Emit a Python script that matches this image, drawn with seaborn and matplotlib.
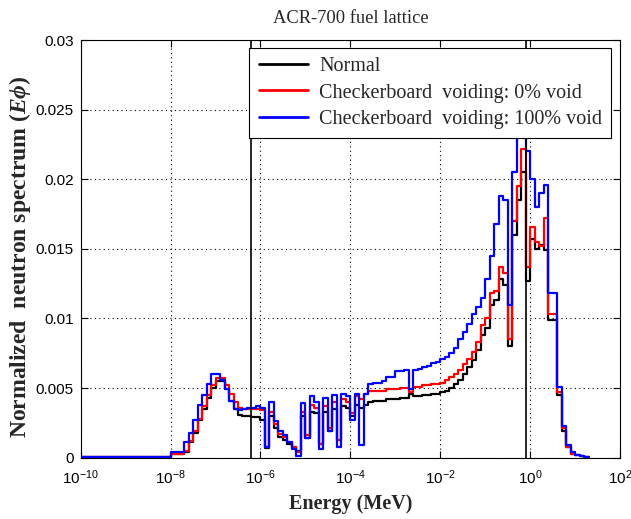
import numpy as np
import pandas as pd
import matplotlib
matplotlib.use("Agg")
import matplotlib.pyplot as plt
import seaborn as sns

# ---- data -------------------------------------------------------------
# energy-group boundaries, log10(E / MeV)
LOG10_EDGES = [-10.0,
    -8.0, -7.9, -7.8, -7.7, -7.6, -7.5, -7.4, -7.3, -7.2, -7.1,
    -7.0, -6.9, -6.8, -6.7, -6.6, -6.5, -6.4, -6.3, -6.2, -6.1,
    -6.0, -5.9, -5.8, -5.7, -5.6, -5.5, -5.4, -5.3, -5.2, -5.1,
    -5.0, -4.9, -4.8, -4.7, -4.6, -4.5, -4.4, -4.3, -4.2, -4.1,
    -4.0, -3.9, -3.8, -3.7, -3.6, -3.5, -3.4, -3.3, -3.2, -3.1,
    -3.0, -2.9, -2.8, -2.7, -2.6, -2.5, -2.4, -2.3, -2.2, -2.1,
    -2.0, -1.9, -1.8, -1.7, -1.6, -1.5, -1.4, -1.3, -1.2, -1.1,
    -1.0, -0.9, -0.8, -0.7, -0.6, -0.5, -0.4, -0.3, -0.2, -0.1,
    0.0, 0.1, 0.2, 0.3, 0.4, 0.5, 0.6, 0.7, 0.8, 0.9,
    1.0, 1.1, 1.2, 1.3]

NORMAL = [0.00005,
    0.0003, 0.0003, 0.0003, 0.0004, 0.0011, 0.0018, 0.0027, 0.0035, 0.0043, 0.0050,
    0.0055, 0.0055, 0.0049, 0.0041, 0.0035, 0.0031, 0.0030, 0.0030, 0.0029, 0.0029,
    0.0027, 0.0007, 0.0030, 0.0021, 0.0015, 0.0013, 0.0010, 0.0008, 0.0005, 0.0030,
    0.0014, 0.0033, 0.0032, 0.0010, 0.0033, 0.0019, 0.0035, 0.0013, 0.0037, 0.0036,
    0.0030, 0.0038, 0.0036, 0.0038, 0.0040, 0.0041, 0.0041, 0.0041, 0.0042, 0.0042,
    0.0042, 0.0043, 0.0043, 0.0046, 0.0044, 0.0044, 0.0045, 0.0045, 0.0046, 0.0046,
    0.0047, 0.0048, 0.0050, 0.0053, 0.0056, 0.0060, 0.0065, 0.0070, 0.0077, 0.0088,
    0.0093, 0.0110, 0.0113, 0.0128, 0.0124, 0.0080, 0.0160, 0.0185, 0.0205, 0.0127,
    0.0157, 0.0150, 0.0153, 0.0149, 0.0099, 0.0099, 0.0045, 0.0019, 0.0008, 0.0003,
    0.0002, 0.0001, 0.00005]

VOID_0 = [0.00005,
    0.0003, 0.0003, 0.0003, 0.0005, 0.0012, 0.0019, 0.0028, 0.0037, 0.0045, 0.0052,
    0.0057, 0.0057, 0.0052, 0.0046, 0.0040, 0.0036, 0.0035, 0.0035, 0.0035, 0.0035,
    0.0034, 0.0008, 0.0033, 0.0024, 0.0017, 0.0015, 0.0011, 0.0008, 0.0004, 0.0033,
    0.0016, 0.0038, 0.0036, 0.0010, 0.0037, 0.0021, 0.0040, 0.0013, 0.0042, 0.0040,
    0.0032, 0.0044, 0.0042, 0.0046, 0.0048, 0.0048, 0.0048, 0.0048, 0.0049, 0.0049,
    0.0049, 0.0050, 0.0050, 0.0047, 0.0051, 0.0051, 0.0052, 0.0052, 0.0053, 0.0053,
    0.0054, 0.0056, 0.0058, 0.0060, 0.0063, 0.0067, 0.0071, 0.0076, 0.0083, 0.0095,
    0.0100, 0.0118, 0.0120, 0.0137, 0.0133, 0.0085, 0.0170, 0.0195, 0.0222, 0.0137,
    0.0166, 0.0155, 0.0152, 0.0172, 0.0103, 0.0103, 0.0047, 0.0021, 0.0008, 0.0003,
    0.0002, 0.0001, 0.00005]

VOID_100 = [0.00005,
    0.0004, 0.0004, 0.0004, 0.0011, 0.0018, 0.0027, 0.0038, 0.0045, 0.0053, 0.0060,
    0.0060, 0.0056, 0.0049, 0.0041, 0.0035, 0.0034, 0.0035, 0.0036, 0.0036, 0.0037,
    0.0036, 0.0008, 0.0040, 0.0026, 0.0019, 0.0016, 0.0011, 0.0006, 0.0001, 0.0039,
    0.0014, 0.0044, 0.0040, 0.0006, 0.0043, 0.0019, 0.0045, 0.0008, 0.0046, 0.0044,
    0.0027, 0.0046, 0.0009, 0.0046, 0.0053, 0.0054, 0.0054, 0.0055, 0.0058, 0.0058,
    0.0062, 0.0062, 0.0063, 0.0049, 0.0063, 0.0064, 0.0065, 0.0066, 0.0068, 0.0069,
    0.0071, 0.0072, 0.0075, 0.0079, 0.0085, 0.0090, 0.0096, 0.0103, 0.0108, 0.0115,
    0.0128, 0.0145, 0.0168, 0.0188, 0.0185, 0.0110, 0.0205, 0.0245, 0.0262, 0.0220,
    0.0200, 0.0180, 0.0190, 0.0196, 0.0118, 0.0118, 0.0051, 0.0023, 0.0009, 0.0004,
    0.0002, 0.0001, 0.00005]

SERIES_NAMES = ["Normal",
                "Checkerboard  voiding: 0% void",
                "Checkerboard  voiding: 100% void"]
SERIES_COLORS = ["black", "red", "blue"]
BOUNDARIES_MEV = [6.25e-7, 0.821]

Y_TICKS = [0, 0.005, 0.01, 0.015, 0.02, 0.025, 0.03]
Y_TICK_LABELS = ["0", "0.005", "0.01", "0.015", "0.02", "0.025", "0.03"]
X_TICKS = [1e-10, 1e-8, 1e-6, 1e-4, 1e-2, 1e0, 1e2]

# ---- build long table ------------------------------------------------
energies = 10.0 ** np.array(LOG10_EDGES)
rows = []
for name, vals in zip(SERIES_NAMES, [NORMAL, VOID_0, VOID_100]):
    yv = list(vals) + [vals[-1]]
    for e, v in zip(energies, yv):
        rows.append((name, e, v))
df = pd.DataFrame(rows, columns=["case", "E", "phi"])

# ---- style -----------------------------------------------------------
sns.set_theme(style="ticks")
plt.rcParams["font.family"] = ["Liberation Sans", "DejaVu Sans"]
plt.rcParams["mathtext.fontset"] = "custom"
plt.rcParams["mathtext.rm"] = "Liberation Serif:bold"
plt.rcParams["mathtext.it"] = "Liberation Serif:italic:bold"
plt.rcParams["mathtext.bf"] = "Liberation Serif:bold"

fig = plt.figure(figsize=(6.31, 5.19), dpi=100)
ax = fig.add_axes([80.7 / 631, 1 - 457.7 / 519, (620 - 80.7) / 631, (457.7 - 40) / 519])

sns.lineplot(data=df, x="E", y="phi", hue="case", hue_order=SERIES_NAMES,
             palette=SERIES_COLORS, drawstyle="steps-post", estimator=None,
             sort=False, linewidth=1.6, legend=False, ax=ax, zorder=3)

for b in BOUNDARIES_MEV:
    ax.axvline(b, color="black", linewidth=1.2, zorder=4)

ax.set_xscale("log")
ax.set_xlim(1e-10, 1e2)
ax.set_ylim(0, 0.03)
ax.set_xticks(X_TICKS)
ax.minorticks_off()
ax.set_yticks(Y_TICKS)
ax.set_yticklabels(Y_TICK_LABELS)
ax.tick_params(direction="in", top=True, right=True, length=5, width=0.8,
               labelsize=11, colors="black")
ax.tick_params(axis="y", pad=5)
ax.tick_params(axis="x", pad=8)
for s in ax.spines.values():
    s.set_color("black")
    s.set_linewidth(0.8)
ax.grid(True, which="major", linestyle=(0, (1, 3)), color="black", linewidth=0.8)
ax.set_axisbelow(True)

serif = ["Liberation Serif", "DejaVu Serif"]
ax.set_title("ACR-700 fuel lattice", fontsize=13.3, family=serif, pad=12)
ax.set_xlabel("Energy (MeV)", fontsize=14.5, fontweight="bold", family=serif, labelpad=5)
ax.set_ylabel(r"Normalized  neutron spectrum ($\mathit{E\phi}$)", fontsize=17,
              fontweight="bold", family=serif)
ax.yaxis.set_label_coords((33 - 80.7) / 539.3, (457.7 - 257) / 417.7)

handles = [plt.Line2D([], [], color=c, linewidth=2) for c in SERIES_COLORS]
leg = ax.legend(handles, SERIES_NAMES, loc="upper right",
                bbox_to_anchor=((611 - 80.7) / 539.3, (457.7 - 48) / 417.7),
                prop={"family": serif, "size": 14.5}, frameon=True, fancybox=False,
                framealpha=1, edgecolor="black", borderpad=0.45, labelspacing=0.36,
                handlelength=2.45, handletextpad=0.55, borderaxespad=0)
leg.get_frame().set_linewidth(0.8)
leg.set_zorder(10)

fig.savefig("out.png", dpi=100)
